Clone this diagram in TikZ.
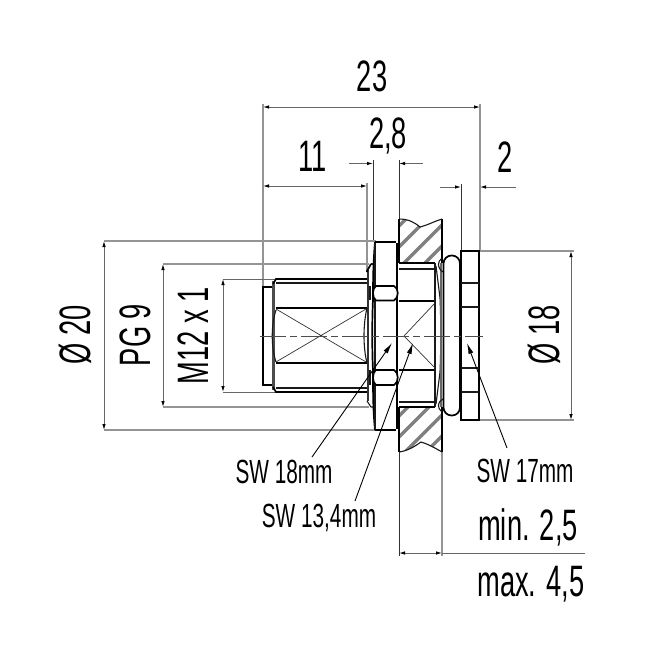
\documentclass[tikz,border=0pt]{standalone}
\usepackage{fontspec}
\setmainfont{Liberation Sans}
\newfontface\dinbig[FakeStretch=0.62]{Liberation Sans}
\usetikzlibrary{arrows.meta}
\tikzset{
  x=1pt,y=-1pt,
  dimline/.style={draw=black!60,line width=0.9pt},
  extline/.style={draw=black!42,line width=1.5pt},
  dimarr/.style={dimline,{Latex[length=6pt,width=3.5pt,black]}-{Latex[length=6pt,width=3.5pt,black]}},
  outl/.style={draw=black,line width=1.7pt},
  medl/.style={draw=black!90,line width=1.1pt},
  thinl/.style={draw=black!80,line width=0.7pt},
  hatchl/.style={draw=black!50,line width=3.4pt},
  bigt/.style={font=\dinbig\fontsize{44}{44}\selectfont,inner sep=0,anchor=base},
  smallt/.style={font=\dinbig\fontsize{33.5}{33.5}\selectfont,inner sep=0,anchor=base},
  leader/.style={draw=black,line width=0.9pt,-{Latex[length=11pt,width=5pt]}},
}
\begin{document}
\begin{tikzpicture}
\useasboundingbox (0,0) rectangle (649,660);
\fill[white] (0,0) rectangle (649,660);
% extension lines
\draw[extline] (263,104)--(263,287);
\draw[extline] (480,104)--(480,252);
\draw[extline] (367,183)--(367,272);
\draw[thinl] (373,160)--(373,242);
\draw[thinl] (399,160)--(399,219);
\draw[thinl] (461,184)--(461,251);
\draw[extline] (104,241)--(376,241);
\draw[extline] (104,430)--(376,430);
\draw[extline] (163,264)--(369,264);
\draw[extline] (163,407)--(369,407);
\draw[dimline] (223,279)--(276,279);
\draw[dimline] (223,392)--(276,392);
\draw[extline] (479,251)--(574,251);
\draw[extline] (479,420)--(574,420);
\draw[thinl] (399,452)--(399,556);
\draw[extline] (442,452)--(442,556);
% dimension lines
\draw[dimarr] (263,107)--(480,107);
\draw[dimarr] (263,186)--(367,186);
\draw[dimline,-{Latex[length=6pt,width=3.5pt,black]}] (349,163.5)--(373,163.5);
\draw[dimline,-{Latex[length=6pt,width=3.5pt,black]}] (423,163.5)--(399,163.5);
\draw[dimline,-{Latex[length=6pt,width=3.5pt,black]}] (440,187)--(461,187);
\draw[dimline,-{Latex[length=6pt,width=3.5pt,black]}] (516,187)--(480,187);
\draw[dimarr] (104,241)--(104,430);
\draw[dimarr] (163,264)--(163,407);
\draw[dimarr] (223,279)--(223,392);
\draw[dimarr] (571,251)--(571,420);
\draw[dimarr] (399,553)--(442,553);
\draw[dimline] (442,553)--(585,553);
% panel
\begin{scope}
\clip (399,219) .. controls (408,219) and (414,222) .. (420,227) .. controls (428,225) and (435,221) .. (442,219) -- (442,263) -- (399,263) -- cycle;
\foreach \k in {0,21,...,105} {\draw[hatchl] (375+\k-20,270)--(375+\k+40,210);}
\end{scope}
\begin{scope}
\clip (399,407) -- (442,407) -- (442,452) .. controls (435,448) and (428,444) .. (421,442) .. controls (414,447) and (407,451) .. (399,452) -- cycle;
\foreach \k in {0,21,...,105} {\draw[hatchl] (375+\k-20,460)--(375+\k+40,400);}
\end{scope}
\draw[outl] (399,219)--(399,263) (442,219)--(442,263);
\draw[outl] (399,407)--(399,452) (442,407)--(442,452);
\draw[medl] (399,219) .. controls (408,219) and (414,222) .. (420,227) .. controls (428,225) and (435,221) .. (442,219);
\draw[medl] (399,452) .. controls (407,451) and (414,447) .. (421,442) .. controls (428,444) and (435,448) .. (442,452);
% connector front
\draw[outl] (272,287)--(263,287)--(263,385)--(272,385);
\draw[line width=3pt,draw=black!70] (273.5,281)--(273.5,390);
\draw[outl] (273,284)--(276,279)--(367,279);
\draw[outl] (273,387)--(276,392)--(367,392);
\draw[medl] (276,283)--(367,283) (276,388)--(367,388);
\draw[outl] (276,308)--(367,308) (276,363)--(367,363);
\draw[medl] (276,310) .. controls (271,325) and (271,347) .. (276,362);
\draw[thinl] (276,309)--(366,362) (276,362)--(366,309);
% flange
\draw[line width=2pt,draw=black!80] (368,270)--(368,401);
\draw[outl] (367,272)--(367,271)--(371,264);
\draw[medl] (367,401)--(371,407)--(375,407);
\draw[medl] (371,264)--(375,264);
\draw[medl] (367,308) .. controls (363,325) and (363,347) .. (367,363);
\draw[medl] (370,286)--(370,300) (370,370)--(370,385);
% nut
\draw[outl] (375,242)--(396,242) (375,430)--(396,430);
\draw[outl] (375,242) .. controls (373,265) and (373,285) .. (373,300);
\draw[outl] (375,430) .. controls (373,410) and (373,392) .. (373,370);
\draw[outl] (373,300) .. controls (372,318) and (372,352) .. (373,370);
\draw[line width=2pt] (397,243)--(397,429);
\draw[medl] (375,243)--(375,429);
\draw[outl,fill=white] (376,286) -- (394,286) .. controls (399,288) and (399,298) .. (394,300.5) -- (376,300.5) .. controls (372,298) and (372,288) .. (376,286) -- cycle;
\draw[outl,fill=white] (376,370) -- (394,370) .. controls (399,372) and (399,383) .. (394,385) -- (376,385) .. controls (372,383) and (372,372) .. (376,370) -- cycle;
% hex body
\draw[outl] (399,263)--(435,263);
\draw[medl] (399,269)--(435,269);
\draw[outl] (399,301)--(435,301) (399,370)--(435,370);
\draw[medl] (399,402)--(435,402);
\draw[outl] (399,407)--(435,407);
\draw[medl] (435,263)--(435,407);
\draw[thinl] (404,336)--(435,303) (404,336)--(435,368);
\draw[medl] (436,266)--(440,298) .. controls (441,320) and (441,350) .. (440,372) -- (436,404);
\draw[medl,draw=black!60] (441,263)--(441,407);
\draw[medl] (442,258) .. controls (437,262) and (437,268) .. (443,272);
\draw[medl] (442,412) .. controls (437,408) and (437,402) .. (443,399);
% o-ring
\draw[outl,rounded corners=8pt] (443.5,415.5) -- (443.5,255.5) -- (460,255.5) -- (460,415.5) -- cycle;
% rear nut
\draw[outl] (461,251) rectangle (479,420);
\draw[medl] (461,283)--(479,283) (461,307)--(479,307) (461,368)--(479,368) (461,392)--(479,392);
% centre line
\draw[thinl,draw=black!70,dash pattern=on 26pt off 4pt on 7pt off 4pt] (260,336)--(483,336);
% leaders
\coordinate (la) at (312,457); \coordinate (lat) at (392,343);
\coordinate (lb) at (355,501); \coordinate (lbt) at (413,343);
\coordinate (lc) at (507,448); \coordinate (lct) at (467,343);
\draw[leader] (la)--(lat);
\draw[leader] (lb)--(lbt);
\draw[leader] (lc)--(lct);
% texts
\node[bigt] (t23) at (372,92) {23};
\node[bigt] (t28) at (388,149) {2,8};
\node[bigt] (t11) at (313,172) {11};
\node[bigt] (t2) at (505,173) {2};
\node[bigt,rotate=90] (td20) at (90,335) {Ø 20};
\node[bigt,rotate=90] (tpg) at (150,335) {PG 9};
\node[bigt,rotate=90] (tm12) at (208,336) {M12 x 1};
\node[bigt,rotate=90] (td18) at (559,335) {Ø 18};
\node[smallt] (sa) at (284,483) {SW 18mm};
\node[smallt] (sb) at (319,527) {SW 13,4mm};
\node[smallt] (sc) at (525,482) {SW 17mm};
\node[bigt] (mn) at (528,540) {min. 2,5};
\node[bigt] (mx) at (531,596) {max. 4,5};
\end{tikzpicture}
\end{document}
